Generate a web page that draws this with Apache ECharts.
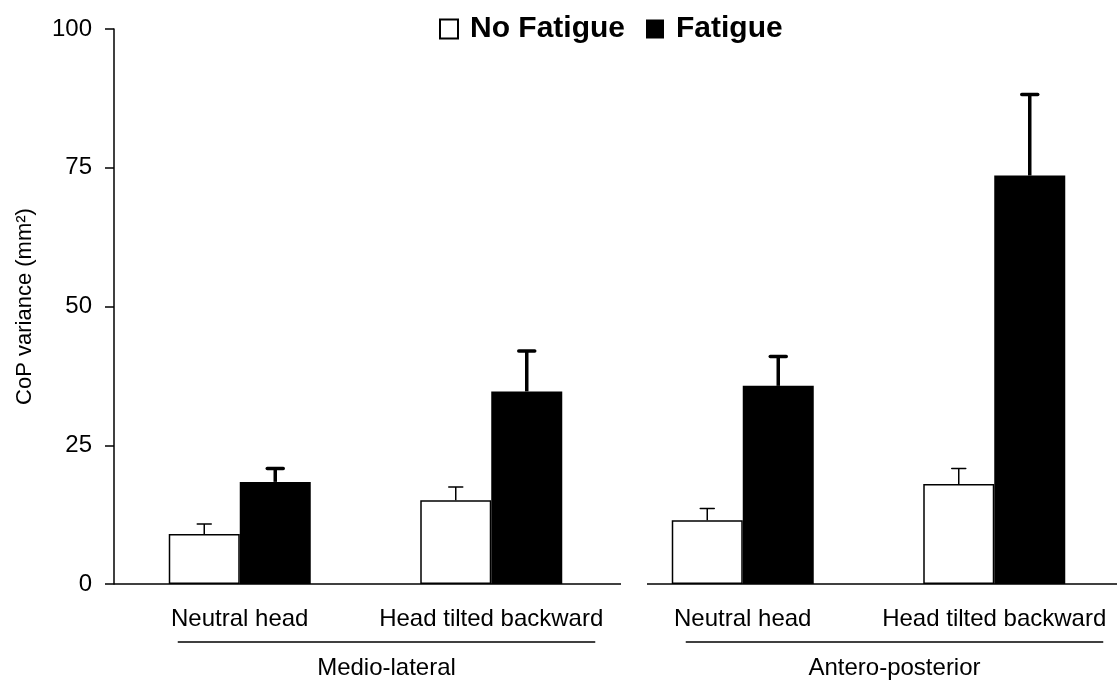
<!DOCTYPE html>
<html>
<head>
<meta charset="utf-8">
<script src="https://cdn.jsdelivr.net/npm/echarts@6/dist/echarts.min.js"></script>
<style>
html,body{margin:0;padding:0;background:#fff;}
#main{width:1118px;height:688px;}
</style>
</head>
<body>
<div id="main"></div>
<script>
const categories = ['Neutral head', 'Head tilted backward', 'Neutral head', 'Head tilted backward'];
const groupNames = ['Medio-lateral', 'Antero-posterior'];
const seriesNames = ['No Fatigue', 'Fatigue'];
const noFatigue = [9.0, 15.1, 11.5, 18.0];
const noFatigueErr = [1.8, 2.4, 2.1, 2.8];
const fatigue = [18.4, 34.7, 35.7, 73.6];
const fatigueErr = [2.4, 7.3, 5.3, 14.6];
const yTicks = [0, 25, 50, 75, 100];

const FONT = "'Liberation Sans', Arial, Helvetica, sans-serif";
const BAR_W = 71;

function errSeries(vals, errs, offset, lw, cap) {
  return {
    type: 'custom',
    z: 5,
    silent: true,
    data: vals.map((v, i) => [i, v, errs[i]]),
    encode: { x: 0, y: 1 },
    renderItem: function (params, api) {
      const base = api.coord([api.value(0), api.value(1)]);
      const top = api.coord([api.value(0), api.value(1) + api.value(2)]);
      const x = base[0] + offset;
      return {
        type: 'group',
        children: [
          { type: 'line', shape: { x1: x, y1: base[1], x2: x, y2: top[1] }, style: { stroke: '#000', lineWidth: lw } },
          { type: 'line', shape: { x1: x - cap, y1: top[1], x2: x + cap, y2: top[1] }, style: { stroke: '#000', lineWidth: lw, lineCap: 'round' } }
        ]
      };
    }
  };
}

const chart = echarts.init(document.getElementById('main'), null, { renderer: 'canvas' });
const option = {
  animation: false,
  backgroundColor: '#fff',
  textStyle: { fontFamily: FONT },
  legend: {
    data: seriesNames,
    icon: 'rect',
    left: 434,
    top: 9,
    itemWidth: 18,
    itemHeight: 19,
    itemGap: 21,
    textStyle: { fontFamily: FONT, fontSize: 30, fontWeight: 'bold', color: '#000', padding: [0, 0, 0, 7] }
  },
  grid: { left: 114, top: 29, width: 1006, bottom: 104, containLabel: false, outerBoundsMode: 'none' },
  xAxis: {
    type: 'category',
    data: categories,
    axisLine: { show: false },
    axisTick: { show: false },
    axisLabel: { color: '#000', fontSize: 24, fontFamily: FONT, margin: 23, interval: 0 }
  },
  yAxis: {
    type: 'value',
    min: 0, max: 100, interval: 25,
    name: 'CoP variance (mm²)',
    nameLocation: 'middle',
    nameGap: 78,
    nameTextStyle: { color: '#000', fontSize: 22, fontFamily: FONT },
    axisLine: { show: true, lineStyle: { color: '#000', width: 1.5 } },
    axisTick: { show: true, length: 9, lineStyle: { color: '#000', width: 1.5 } },
    axisLabel: { color: '#000', fontSize: 24, fontFamily: FONT, margin: 22,
      formatter: v => (yTicks.indexOf(v) >= 0 ? String(v) : '') },
    splitLine: { show: false }
  },
  series: [
    {
      name: seriesNames[0], type: 'bar', data: noFatigue, barWidth: BAR_W, barGap: '0%',
      itemStyle: { color: '#fff', borderColor: '#000', borderWidth: 1.5 }, z: 2
    },
    {
      name: seriesNames[1], type: 'bar', data: fatigue, barWidth: BAR_W, barGap: '0%',
      itemStyle: { color: '#000', borderColor: '#000', borderWidth: 0 }, z: 2
    },
    errSeries(noFatigue, noFatigueErr, -BAR_W / 2, 1.5, 7),
    errSeries(fatigue, fatigueErr, BAR_W / 2, 3.5, 8)
  ]
};
chart.setOption(option);

// decorative axis baselines and group underlines / labels
const y0 = chart.convertToPixel({ gridIndex: 0 }, [0, 0])[1];
const cx = categories.map((c, i) => chart.convertToPixel({ xAxisIndex: 0 }, i));
const lineStyle = { stroke: '#000', lineWidth: 1.5 };
const graphics = [
  { type: 'line', shape: { x1: 114, y1: y0, x2: 621, y2: y0 }, style: lineStyle },
  { type: 'line', shape: { x1: 647, y1: y0, x2: 1117, y2: y0 }, style: lineStyle },
  { type: 'line', shape: { x1: cx[0] - 62, y1: y0 + 58, x2: cx[1] + 104, y2: y0 + 58 }, style: lineStyle },
  { type: 'line', shape: { x1: cx[2] - 57, y1: y0 + 58, x2: cx[3] + 109, y2: y0 + 58 }, style: lineStyle },
  { type: 'text', x: (cx[0] + cx[1]) / 2 + 21, y: y0 + 84, style: { text: groupNames[0], fill: '#000', fontSize: 24, fontFamily: FONT, textAlign: 'center', textVerticalAlign: 'middle' } },
  { type: 'text', x: (cx[2] + cx[3]) / 2 + 26, y: y0 + 84, style: { text: groupNames[1], fill: '#000', fontSize: 24, fontFamily: FONT, textAlign: 'center', textVerticalAlign: 'middle' } }
];
chart.setOption({ graphic: graphics });
</script>
</body>
</html>
